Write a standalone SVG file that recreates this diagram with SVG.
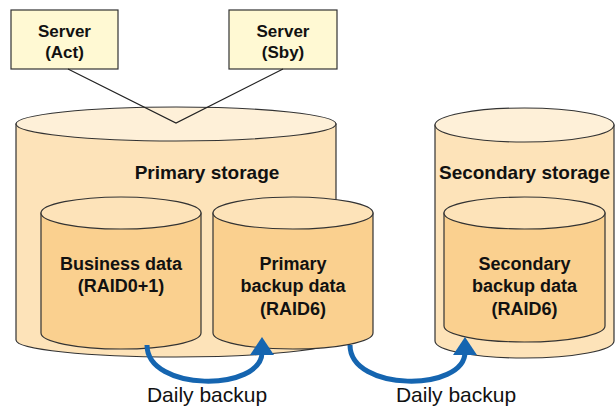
<svg xmlns="http://www.w3.org/2000/svg" width="616" height="409" viewBox="0 0 616 409">
<style>
.srv{fill:#FFF9D3;stroke:#333;stroke-width:1.2}
.outer{fill:#FDE3B9;stroke:#333;stroke-width:1.2}
.inner{fill:#FAD08F;stroke:#333;stroke-width:1.2}
.top-in{fill:#FDE3B9;stroke:#333;stroke-width:1.2}
.top-out{fill:#FEF0D8;stroke:#333;stroke-width:1.2}
.b{font-family:"Liberation Sans",Arial,sans-serif;font-weight:bold;font-size:18px;fill:#111;text-anchor:middle}
.s{font-size:17px}
.l{font-size:19px}
.n{font-family:"Liberation Sans",Arial,sans-serif;font-size:21px;fill:#111;text-anchor:middle}
.line{stroke:#222;stroke-width:1.2;fill:none}
.arc{stroke:#1565B0;stroke-width:5;fill:none}
.head{fill:#1565B0}
</style>
<g id="primary-storage">
<path class="outer" d="M16,124 L16,340 A160,17 0 0 0 336,340 L336,124 Z"/>
<ellipse class="top-out" cx="176" cy="124" rx="160" ry="17"/>
<text class="b l" x="207" y="179">Primary storage</text>
</g>
<g id="secondary-storage">
<path class="outer" d="M435,125 L435,341 A89.5,17 0 0 0 614,341 L614,125 Z"/>
<ellipse class="top-out" cx="524.5" cy="125" rx="89.5" ry="17"/>
<text class="b l" x="524.5" y="179">Secondary storage</text>
</g>
<g id="business-data">
<path class="inner" d="M41,213 L41,333 A80,16 0 0 0 201,333 L201,213 Z"/>
<ellipse class="top-in" cx="121" cy="213" rx="80" ry="16"/>
<text class="b" x="121" y="270">Business data</text>
<text class="b" x="121" y="292">(RAID0+1)</text>
</g>
<g id="primary-backup">
<path class="inner" d="M213,213 L213,333 A80,16 0 0 0 373,333 L373,213 Z"/>
<ellipse class="top-in" cx="293" cy="213" rx="80" ry="16"/>
<text class="b" x="293" y="270">Primary</text>
<text class="b" x="293" y="292">backup data</text>
<text class="b" x="293" y="315">(RAID6)</text>
</g>
<g id="secondary-backup">
<path class="inner" d="M444,213 L444,326 A80.5,16 0 0 0 605,326 L605,213 Z"/>
<ellipse class="top-in" cx="524.5" cy="213" rx="80.5" ry="16"/>
<text class="b" x="524.5" y="270">Secondary</text>
<text class="b" x="524.5" y="292">backup data</text>
<text class="b" x="524.5" y="315">(RAID6)</text>
</g>
<g id="server-act">
<rect class="srv" x="11" y="10" width="107" height="59"/>
<text class="b s" x="64.5" y="37">Server</text>
<text class="b s" x="64.5" y="58">(Act)</text>
</g>
<g id="server-sby">
<rect class="srv" x="229" y="10" width="108" height="59"/>
<text class="b s" x="283" y="37">Server</text>
<text class="b s" x="283" y="58">(Sby)</text>
</g>
<g id="connectors">
<polyline class="line" points="68,69 176,123 283,69"/>
<path class="arc" d="M147,345 C147,392 262,392 262,352"/>
<polygon class="head" points="262,337 250,355 274,355"/>
<path class="arc" d="M350,345 C350,392 465,392 465,352"/>
<polygon class="head" points="465,337 453,355 477,355"/>
<text class="n" x="207" y="402">Daily backup</text>
<text class="n" x="456" y="402">Daily backup</text>
</g>
</svg>
